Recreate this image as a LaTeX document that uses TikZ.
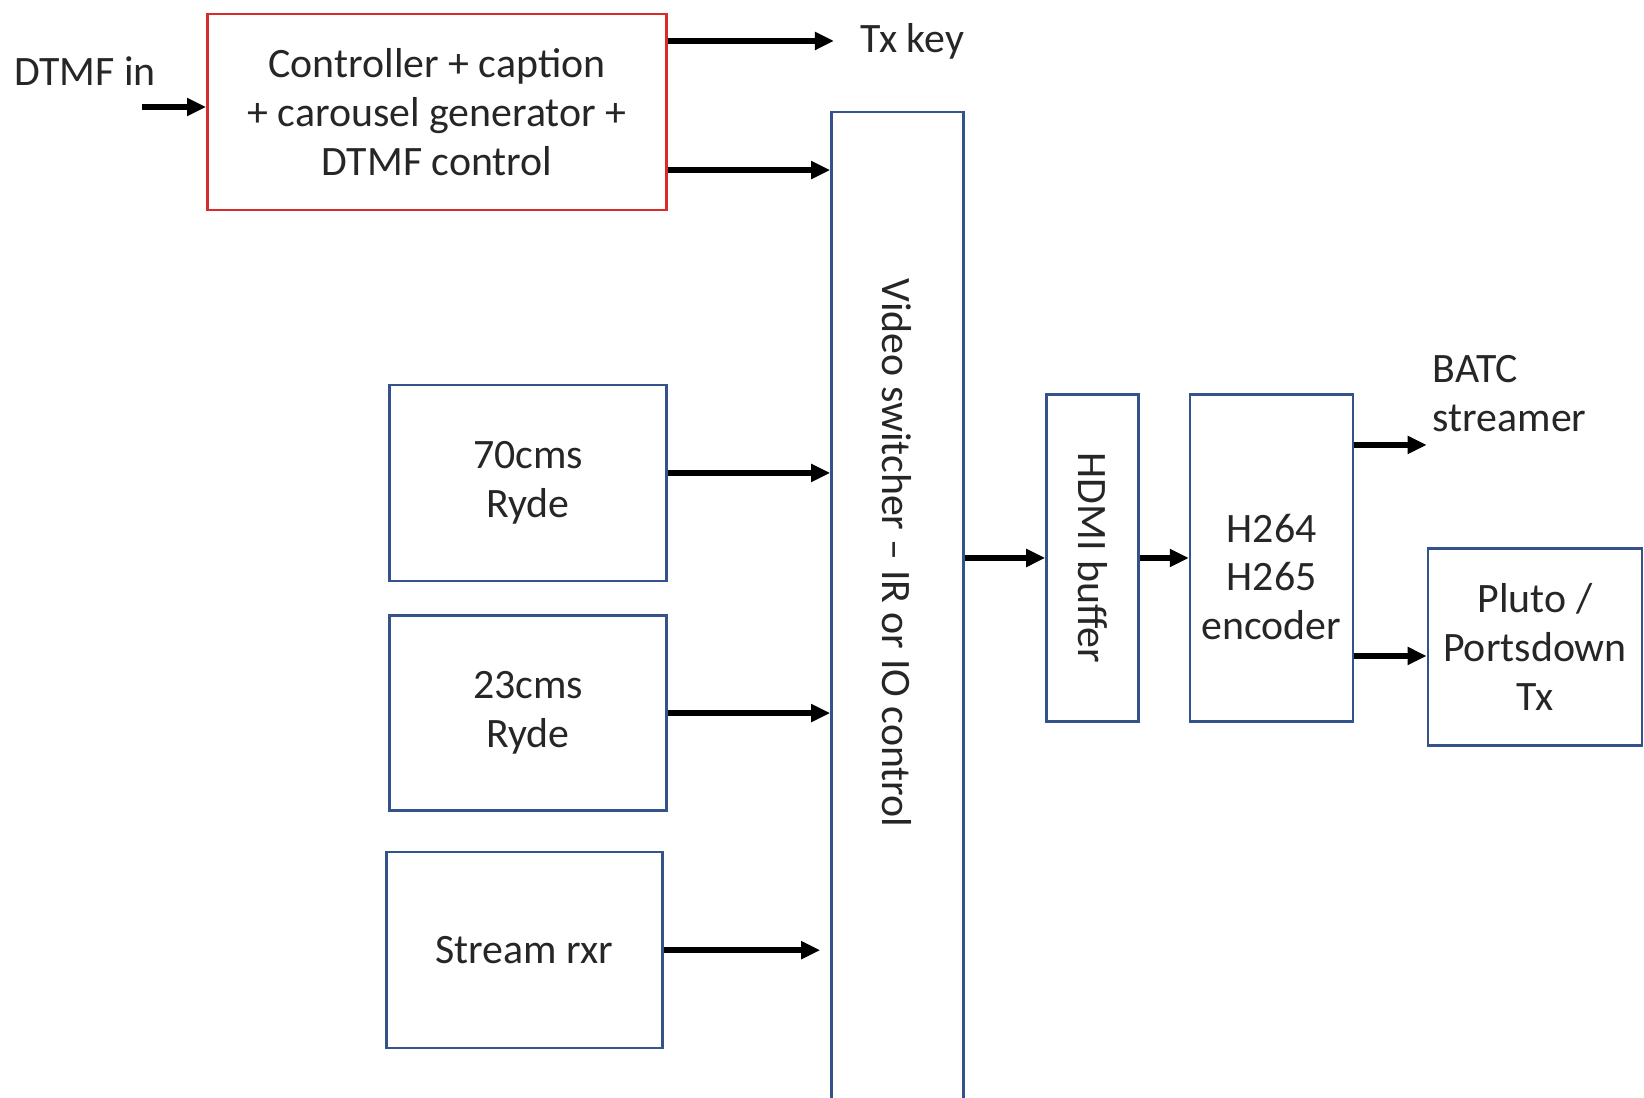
\documentclass[tikz,border=0pt]{standalone}
\usepackage{fontspec}
\setmainfont{Carlito}
\usetikzlibrary{arrows.meta, positioning, calc}
\definecolor{boxborder}{HTML}{34538A}
\definecolor{ctrlborder}{HTML}{D92B2B}
\definecolor{textdark}{HTML}{262626}

\begin{document}
\begin{tikzpicture}[
    x=0.01cm, y=-0.01cm,
    every node/.style={font=\fontsize{11.9}{13.9}\selectfont, text=textdark},
    block/.style={draw=boxborder, line width=0.7pt, fill=white, align=center,
        inner sep=2pt},
    ctrlbox/.style={block, draw=ctrlborder},
    lbl/.style={align=left, inner sep=0pt},
    arw/.style={-{Triangle[length=0.19cm, width=0.17cm]}, line width=1.6pt, black},
]

% === Page ===
\clip (0,0) rectangle (1644,1098);
\fill[white] (0,0) rectangle (1644,1098);

% === Controller ===
\node[ctrlbox, minimum width=4.59cm, minimum height=1.96cm] (ctrl) at (437,112)
    {Controller + caption\\+ carousel generator +\\DTMF control};
\node[lbl] (dtmfin) at (85,71) {DTMF in};
\coordinate (din) at (142,107);
\node[lbl, anchor=west] (txkey) at (860,41) {Tx key};

% === Switcher ===
\node[block, minimum width=1.32cm, minimum height=10.1cm, anchor=north] (switch) at (897.5,111) {};
\node[rotate=-90] (swlabel) at (897,553) {Video switcher \textendash{} IR or IO control};

% === Receivers ===
\node[block, minimum width=2.77cm, minimum height=1.96cm] (ryde70) at (528,483)
    {70cms\\Ryde};
\node[block, minimum width=2.77cm, minimum height=1.95cm, below=0.32cm of ryde70] (ryde23)
    {23cms\\Ryde};
\node[block, minimum width=2.76cm, minimum height=1.96cm, below=0.39cm of ryde23, xshift=-0.036cm] (rxr)
    {Stream rxr};

% === Output chain ===
\node[block, minimum width=0.92cm, minimum height=3.27cm] (hdmi) at (1092.5,558) {};
\node[rotate=-90] (hdmilabel) at (hdmi) {HDMI buffer};
\node[block, minimum width=1.63cm, minimum height=3.27cm, right=0.49cm of hdmi] (enc) {};
\node[align=center, inner sep=0pt] (enclabel) at ([yshift=-0.19cm]enc.center) {H264\\H265\\encoder};
\node[block, minimum width=2.14cm, minimum height=1.97cm] (pluto) at (1535,647)
    {Pluto /\\Portsdown\\Tx};
\node[lbl, anchor=west] (batc) at (1432,394) {BATC\\streamer};

% === Arrows ===
\draw[arw] (din) -- (din -| ctrl.west);
\draw[arw] (ctrl.east |- txkey) -- ([xshift=-0.26cm]txkey.west);
\draw[arw] ([yshift=-0.58cm]ctrl.east) -- ([yshift=-0.58cm]ctrl.east -| switch.west);
\draw[arw] ([yshift=0.1cm]ryde70.east) -- ([yshift=0.1cm]ryde70.east -| switch.west);
\draw[arw] (ryde23.east) -- (ryde23.east -| switch.west);
\draw[arw] (rxr.east) -- ([xshift=-0.1cm]rxr.east -| switch.west);
\draw[arw] (hdmi.west -| switch.east) -- (hdmi.west);
\draw[arw] (hdmi.east) -- (enc.west);
\draw[arw] ([yshift=1.13cm]enc.east) -- ([yshift=1.13cm]enc.east -| pluto.west);
\draw[arw] ([yshift=-0.09cm]enc.east |- pluto) -- ([yshift=-0.09cm]pluto.west);

\end{tikzpicture}
\end{document}
